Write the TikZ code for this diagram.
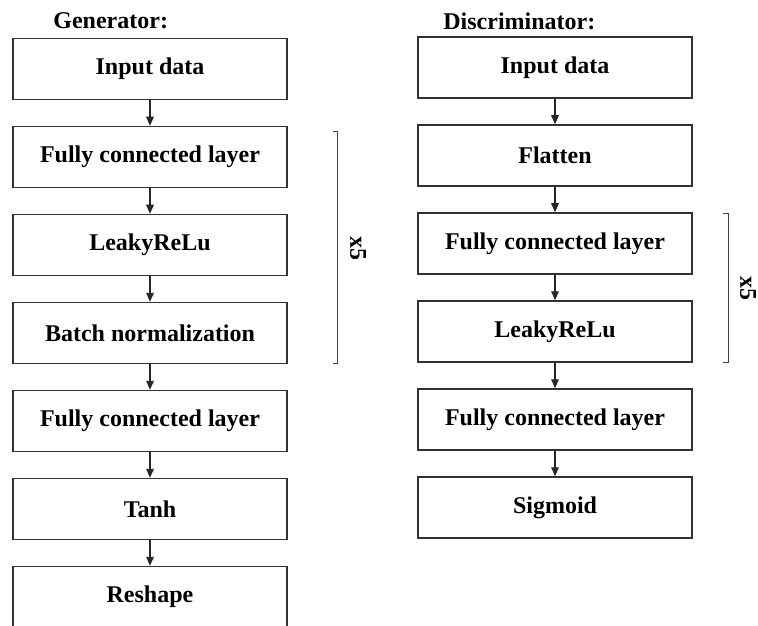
\documentclass[tikz,border=0pt]{standalone}
\usepackage{fontspec}
\setmainfont{Liberation Serif}
\usetikzlibrary{positioning,arrows.meta}
\tikzset{
  layer/.style={draw=black!80, line width=0.75pt, minimum width=137pt, minimum height=30.5pt, inner sep=0pt, font=\fontsize{12}{14}\selectfont\bfseries},
  title/.style={anchor=west, inner sep=0pt, font=\fontsize{12}{14}\selectfont\bfseries},
  flow/.style={draw=black!85, line width=0.6pt, -{Triangle[length=4.5pt,width=3.8pt]}},
  bracket/.style={draw=black!75, line width=0.6pt},
  times/.style={rotate=-90, inner sep=0pt, font=\fontsize{12}{14}\selectfont\bfseries}
}
\begin{document}
\begin{tikzpicture}[x=0.5pt,y=-0.5pt,node distance=12.75pt]
  \useasboundingbox (0,0) rectangle (758,625);

  % generator
  \node[title] (gtitle) at (53,21) {Generator:};
  \node[layer] (gin) at (150,69) {Input data};
  \node[layer, below=of gin] (gfc) {Fully connected layer};
  \node[layer, below=of gfc] (glr) {LeakyReLu};
  \node[layer, below=of glr] (gbn) {Batch normalization};
  \node[layer, below=of gbn] (gfcb) {Fully connected layer};
  \node[layer, below=of gfcb] (gtanh) {Tanh};
  \node[layer, below=of gtanh] (gres) {Reshape};

  % discriminator
  \node[title] (dtitle) at (443,21) {Discriminator:};
  \node[layer] (din) at (555,67.5) {Input data};
  \node[layer, below=of din] (dflat) {Flatten};
  \node[layer, below=of dflat] (dfc) {Fully connected layer};
  \node[layer, below=of dfc] (dlr) {LeakyReLu};
  \node[layer, below=of dlr] (dfcb) {Fully connected layer};
  \node[layer, below=of dfcb] (dsig) {Sigmoid};

  \foreach \a/\b in {gin/gfc,gfc/glr,glr/gbn,gbn/gfcb,gfcb/gtanh,gtanh/gres,
                     din/dflat,dflat/dfc,dfc/dlr,dlr/dfcb,dfcb/dsig}
  {
    \draw[flow] (\a) -- (\b);
  }

  % repeat brackets
  \draw[bracket] ([xshift=22.5pt,yshift=-3pt]gfc.north east) -- ++(2.5pt,0) |- ([xshift=22.5pt,yshift=0.5pt]gbn.south east);
  \node[times] (gx) at (358,248) {x5};
  \draw[bracket] ([xshift=15pt,yshift=-0.5pt]dfc.north east) -- ++(3pt,0) |- ([xshift=15pt]dlr.south east);
  \node[times] (dx) at (748,288) {x5};
\end{tikzpicture}
\end{document}
